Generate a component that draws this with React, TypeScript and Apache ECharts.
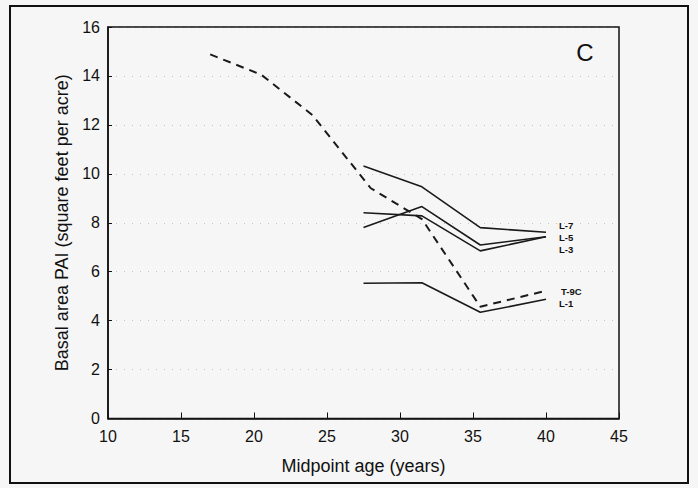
import React, { useEffect, useRef } from "react";
import * as echarts from "echarts";

const xT9C = [17, 20.5, 24, 28, 31.5, 35.5, 40];
const T9C = [14.88, 14.05, 12.4, 9.41, 8.15, 4.57, 5.22];
const xL = [27.5, 31.5, 35.5, 40];
const L7 = [10.32, 9.47, 7.8, 7.61];
const L5 = [7.81, 8.66, 7.09, 7.43];
const L3 = [8.41, 8.28, 6.85, 7.43];
const L1 = [5.53, 5.55, 4.34, 4.87];

const FONT = "'Liberation Sans', Arial, Helvetica, sans-serif";

function pairs(xs: number[], ys: number[]) {
  return xs.map((x, i) => [x, ys[i]]);
}

export default function App() {
  const ref = useRef<HTMLDivElement>(null);
  useEffect(() => {
    if (!ref.current) return;
    const chart = echarts.init(ref.current, null, { renderer: "svg" });
    const lineSeries = (
      name: string,
      xs: number[],
      ys: number[],
      dashed: boolean,
      dist: number,
      dy: number
    ) => ({
      name,
      type: "line",
      data: pairs(xs, ys),
      showSymbol: false,
      symbol: "none",
      lineStyle: {
        color: "#1a1a1a",
        width: dashed ? 2 : 1.6,
        type: dashed ? [8, 6] : "solid",
      },
      endLabel: {
        show: true,
        formatter: name,
        distance: dist,
        offset: [0, dy],
        fontSize: 9.5,
        lineHeight: 10,
        fontWeight: "bold",
        fontFamily: FONT,
        color: "#111",
      },
      z: 3,
    });
    chart.setOption({
      animation: false,
      backgroundColor: "#f6f6f6",
      grid: {
        left: 108,
        right: 79,
        top: 27,
        bottom: 69.5,
        show: true,
        borderColor: "#111",
        borderWidth: 1.5,
        backgroundColor: "transparent",
      },
      xAxis: {
        type: "value",
        min: 10,
        max: 45,
        interval: 5,
        name: "Midpoint age (years)",
        nameLocation: "middle",
        nameGap: 38,
        nameTextStyle: { fontSize: 18, fontFamily: FONT, color: "#111" },
        axisLine: { show: true, lineStyle: { color: "#111", width: 1.5 } },
        axisTick: { show: true, inside: true, length: 6, lineStyle: { color: "#111" } },
        axisLabel: { fontSize: 16, fontFamily: FONT, color: "#111", margin: 10 },
        splitLine: { show: false },
      },
      yAxis: {
        type: "value",
        min: 0,
        max: 16,
        interval: 2,
        name: "Basal area PAI (square feet per acre)",
        nameLocation: "middle",
        nameGap: 34,
        nameTextStyle: { fontSize: 18, fontFamily: FONT, color: "#111" },
        axisLine: { show: true, lineStyle: { color: "#111", width: 1.5 } },
        axisTick: { show: true, inside: true, length: 4, lineStyle: { color: "#111" } },
        axisLabel: { fontSize: 16, fontFamily: FONT, color: "#111", margin: 8 },
        splitLine: {
          show: true,
          lineStyle: { color: "#888", width: 1, type: [1, 7], opacity: 0.45 },
        },
      },
      graphic: [
        {
          type: "rect",
          shape: { x: 10, y: 6, width: 678, height: 477 },
          style: { fill: "none", stroke: "#111", lineWidth: 2 },
          silent: true,
        },
        {
          type: "text",
          x: 585,
          y: 52,
          style: {
            text: "C",
            fontSize: 24,
            fontFamily: FONT,
            fill: "#111",
            align: "center",
            verticalAlign: "middle",
          },
        },
      ],
      series: [
        lineSeries("T-9C", xT9C, T9C, true, 15, 1),
        lineSeries("L-7", xL, L7, false, 13, -7),
        lineSeries("L-5", xL, L5, false, 13, 1),
        lineSeries("L-3", xL, L3, false, 13, 13),
        lineSeries("L-1", xL, L1, false, 13, 4),
      ],
    });
    return () => chart.dispose();
  }, []);
  return (
    <div
      ref={ref}
      style={{ position: "absolute", left: 0, top: 0, width: 698, height: 488 }}
    />
  );
}
